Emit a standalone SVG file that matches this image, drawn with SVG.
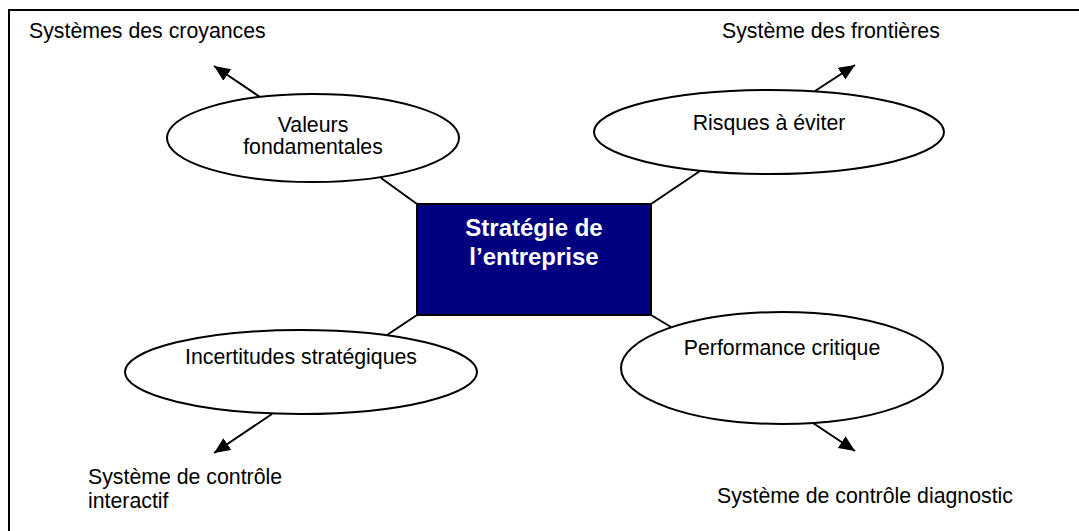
<svg xmlns="http://www.w3.org/2000/svg" width="1079" height="531" viewBox="0 0 1079 531">
<defs>
<style>
.t{font-family:"Liberation Sans",Arial,sans-serif;font-size:21.3px;fill:#000}
.c{text-anchor:middle}
.b{font-family:"Liberation Sans",Arial,sans-serif;font-size:24px;font-weight:bold;fill:#fff;text-anchor:middle}
.e{fill:#fff;stroke:#000;stroke-width:2}
.l{stroke:#000;stroke-width:2;fill:none}
</style>
<marker id="ah" markerUnits="userSpaceOnUse" markerWidth="18" markerHeight="16" refX="16" refY="7" orient="auto">
<path d="M0,0 L16,7 L0,14 Z" fill="#000"/>
</marker>
</defs>
<rect width="1079" height="531" fill="#fff"/>
<rect x="9" y="10" width="1100" height="560" fill="none" stroke="#000" stroke-width="2"/>
<g id="connectors">
<line class="l" x1="381" y1="178" x2="417" y2="204"/>
<line class="l" x1="260" y1="97" x2="214" y2="66" marker-end="url(#ah)"/>
<line class="l" x1="700" y1="171" x2="651" y2="204"/>
<line class="l" x1="815" y1="91" x2="855" y2="65" marker-end="url(#ah)"/>
<line class="l" x1="417" y1="315" x2="387" y2="335"/>
<line class="l" x1="272" y1="414" x2="214" y2="453" marker-end="url(#ah)"/>
<line class="l" x1="651" y1="315" x2="671" y2="327"/>
<line class="l" x1="813" y1="423" x2="855" y2="451" marker-end="url(#ah)"/>
</g>
<g id="strategie">
<rect x="417" y="204" width="234" height="111" fill="#000080" stroke="#000" stroke-width="2"/>
<text class="b" x="534" y="236">Stratégie de</text>
<text class="b" x="534" y="265">l’entreprise</text>
</g>
<g id="valeurs">
<ellipse class="e" cx="313" cy="138" rx="146" ry="44"/>
<text class="t c" x="313" y="132">Valeurs</text>
<text class="t c" x="313" y="154">fondamentales</text>
</g>
<g id="risques">
<ellipse class="e" cx="769" cy="132" rx="175" ry="42"/>
<text class="t c" x="769" y="130">Risques à éviter</text>
</g>
<g id="incertitudes">
<ellipse class="e" cx="301" cy="372" rx="176" ry="42"/>
<text class="t c" x="301" y="364">Incertitudes stratégiques</text>
</g>
<g id="performance">
<ellipse class="e" cx="782" cy="368" rx="161" ry="56"/>
<text class="t c" x="782" y="355">Performance critique</text>
</g>
<g id="croyances"><text class="t" x="29" y="38">Systèmes des croyances</text></g>
<g id="frontieres"><text class="t" x="722" y="38">Système des frontières</text></g>
<g id="interactif"><text class="t" x="88" y="484">Système de contrôle</text><text class="t" x="88" y="508">interactif</text></g>
<g id="diagnostic"><text class="t" x="717" y="503">Système de contrôle diagnostic</text></g>
</svg>
